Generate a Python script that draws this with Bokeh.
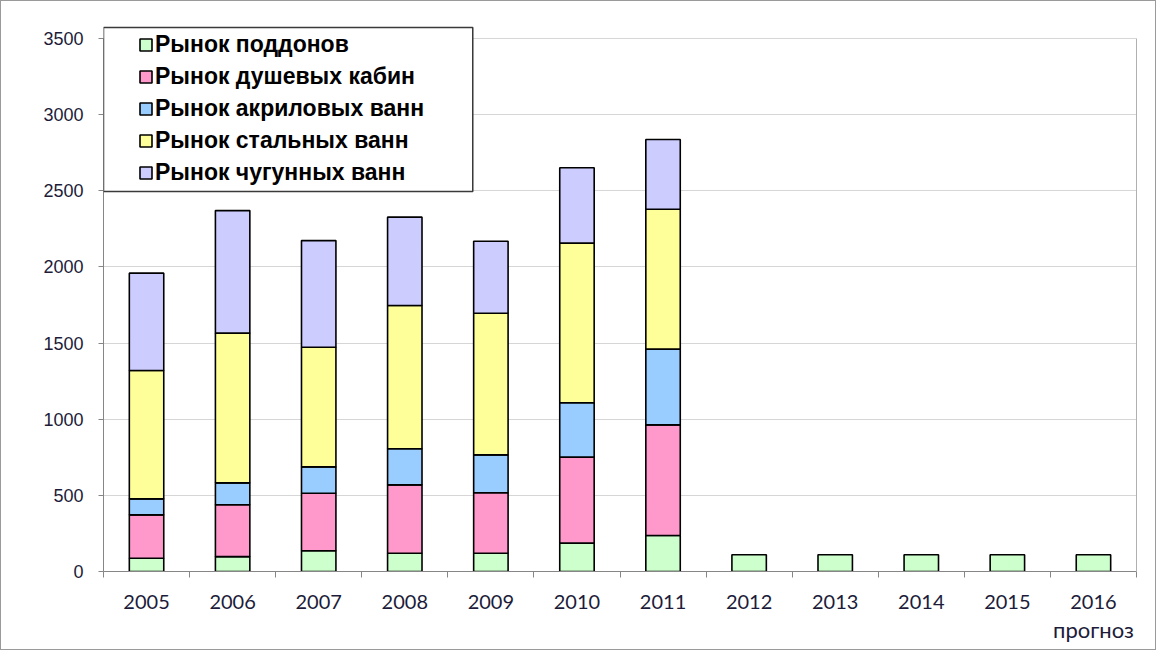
import numpy as np
from bokeh.plotting import figure
from bokeh.models import (ColumnDataSource, Range1d, FixedTicker, Legend, LegendItem,
                          Label, LinearAxis)
from bokeh.embed import file_html
from bokeh.resources import INLINE

years = ["2005", "2006", "2007", "2008", "2009", "2010", "2011",
         "2012", "2013", "2014", "2015", "2016"]
nan = float("nan")
poddony = [87, 98, 136, 120, 120, 186, 236, 110, 110, 110, 110, 110]
dush_kabiny = [285, 340, 378, 449, 397, 565, 727, nan, nan, nan, nan, nan]
akril_vanny = [105, 144, 173, 237, 249, 357, 497, nan, nan, nan, nan, nan]
stal_vanny = [843, 983, 786, 941, 930, 1048, 919, nan, nan, nan, nan, nan]
chug_vanny = [639, 805, 700, 580, 473, 495, 458, nan, nan, nan, nan, nan]

series = ["poddony", "dush", "akril", "stal", "chug"]
labels = ["Рынок поддонов", "Рынок душевых кабин", "Рынок акриловых ванн",
          "Рынок стальных ванн", "Рынок чугунных ванн"]
colors = ["#ccffcc", "#ff99cc", "#99ccff", "#ffff99", "#ccccff"]
forecast_note = "прогноз"
y_ticks = [0, 500, 1000, 1500, 2000, 2500, 3000, 3500]

x_pos = (np.arange(len(years)) + 0.5).tolist()
source = ColumnDataSource(dict(x=x_pos, poddony=poddony, dush=dush_kabiny,
                               akril=akril_vanny, stal=stal_vanny, chug=chug_vanny))

px_per_y = 533 / 3500          # plot scale: 3500 units over 533 px
y_top = 3500 + 13 / px_per_y   # a little headroom above 3500 for the legend frame

p = figure(width=1156, height=650, x_range=Range1d(0, len(years)), y_range=Range1d(0, y_top),
           output_backend="svg", toolbar_location=None,
           min_border_left=102, min_border_right=21, min_border_top=24, min_border_bottom=80)
p.styles = {"border": "1px solid #9a9a9a"}
p.outline_line_color = None
p.background_fill_color = "white"
p.border_fill_color = "white"

renderers = p.vbar_stack(series, x="x", width=0.4, source=source,
                         fill_color=colors, line_color="black", line_width=1.6)

axis_color = "#868686"
text_color = "#1c1c3a"

# x axis: labels at bar centres, ticks at category boundaries
p.xaxis.ticker = FixedTicker(ticks=x_pos, minor_ticks=list(range(len(years) + 1)))
p.xaxis.major_label_overrides = {x: y for x, y in zip(x_pos, years)}
p.xaxis.major_tick_out = 0
p.xaxis.major_tick_in = 0
p.xaxis.minor_tick_out = 6
p.xaxis.minor_tick_in = 0
p.xaxis.minor_tick_line_color = axis_color
p.xaxis.axis_line_color = axis_color
p.xaxis.major_label_text_font = "Lato"
p.xaxis.major_label_text_font_size = "20px"
p.xaxis.major_label_text_color = text_color
p.xaxis.major_label_standoff = 17
p.xgrid.visible = False

note_axis = LinearAxis(ticker=FixedTicker(ticks=[x_pos[-1]], minor_ticks=[]),
                       major_label_overrides={x_pos[-1]: forecast_note},
                       axis_line_color=None, major_tick_line_color=None,
                       major_tick_in=0, major_tick_out=0, major_label_standoff=4,
                       major_label_text_font="Lato", major_label_text_font_size="22px",
                       major_label_text_color=text_color)
p.add_layout(note_axis, "below")

# y axis
p.yaxis.ticker = FixedTicker(ticks=y_ticks, minor_ticks=[])
p.yaxis.bounds = (0, 3500)
p.yaxis.major_tick_out = 5
p.yaxis.major_tick_in = 0
p.yaxis.major_tick_line_color = axis_color
p.yaxis.axis_line_color = axis_color
p.yaxis.minor_tick_line_color = None
p.yaxis.major_label_text_font = "Liberation Sans"
p.yaxis.major_label_text_font_size = "18px"
p.yaxis.major_label_text_color = text_color
p.yaxis.major_label_standoff = 15
p.ygrid.grid_line_color = "#d6d6d6"
p.ygrid.grid_line_width = 1

right_axis = LinearAxis(ticker=FixedTicker(ticks=[], minor_ticks=[]), bounds=(0, 3500),
                        axis_line_color="#b0b0b0", major_tick_line_color=None,
                        minor_tick_line_color=None, major_label_text_font_size="0px")
p.add_layout(right_axis, "right")

# legend frame (blank label with padding draws the box)
box = Label(x=0, y=3500 + 11 / px_per_y, text=" ",
            text_font_size="1px", text_align="left", text_baseline="top",
            padding=(0, 369, 163, 0),
            background_fill_color="white", background_fill_alpha=1.0,
            border_line_color="#3a3a3a", border_line_width=1.5)
p.add_layout(box)

legend = Legend(items=[LegendItem(label=l, renderers=[r]) for l, r in zip(labels, renderers)],
                location=(35, 385), orientation="vertical",
                border_line_color=None, background_fill_alpha=0,
                label_text_font="Liberation Sans", label_text_font_style="bold",
                label_text_font_size="23px", label_text_color="black",
                glyph_width=15, glyph_height=15, label_standoff=2,
                label_height=20, spacing=5, padding=4, margin=0)
p.add_layout(legend, "center")

open("out.html", "w").write(file_html(p, INLINE))
